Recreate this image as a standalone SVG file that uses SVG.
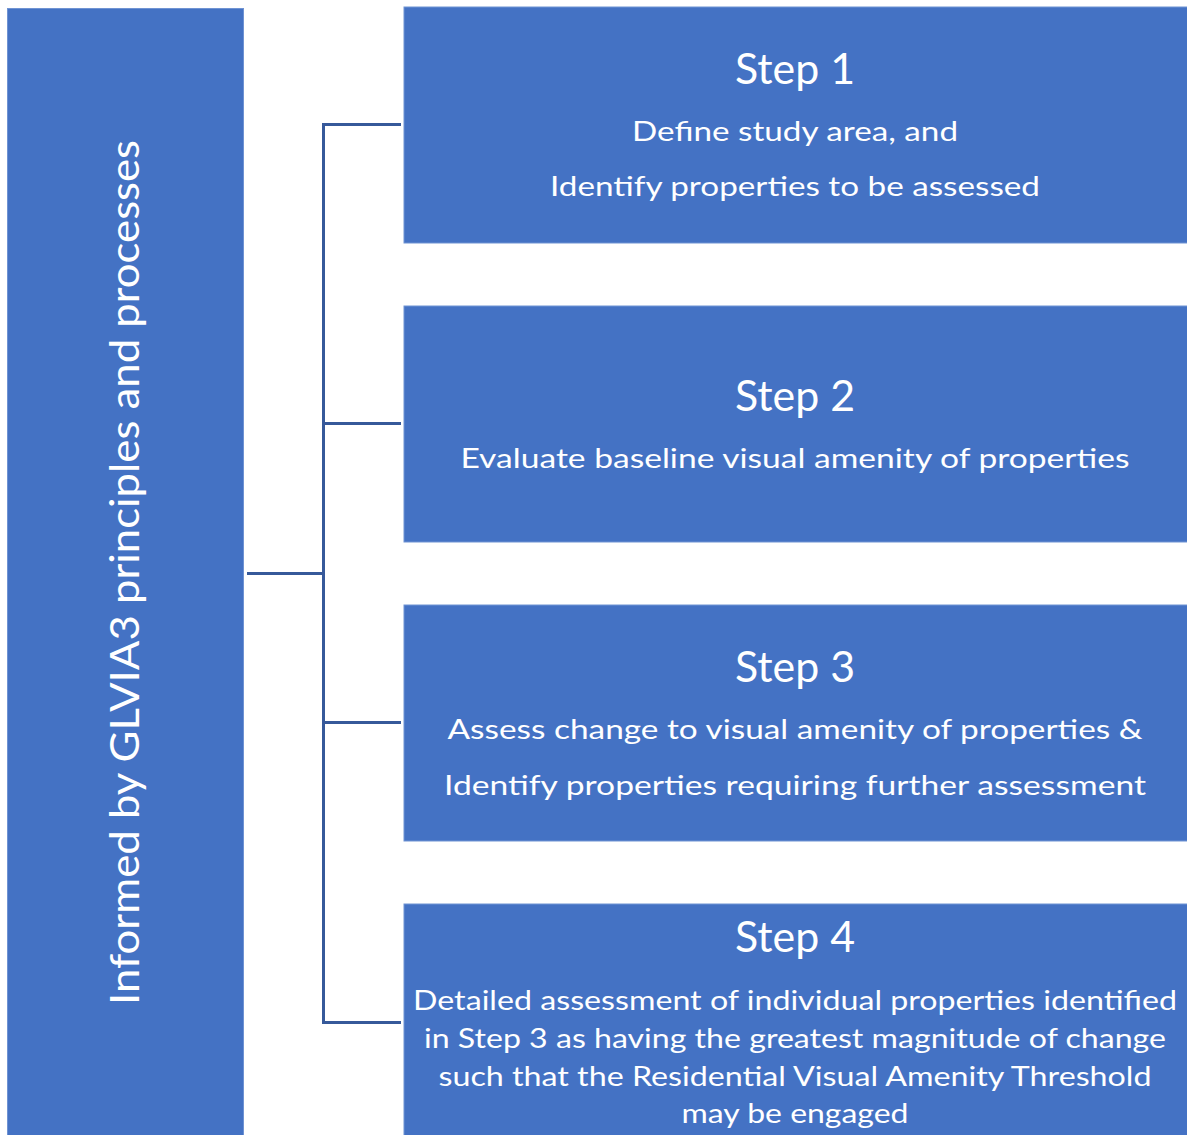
<svg xmlns="http://www.w3.org/2000/svg" width="1187" height="1135" viewBox="0 0 1187 1135">
<style>
.box{fill:#4472C4;stroke:#6F93D3;stroke-width:1}
.t{font-family:Lato,"Open Sans","Liberation Sans",sans-serif;fill:#FFFFFF;text-anchor:middle}
.title{font-size:42px}
.body{font-size:27px}
.side{font-size:40px}
.conn{fill:none;stroke:#36599A;stroke-width:3}
</style>
<rect width="1187" height="1135" fill="#FFFFFF"/>
<g id="side">
<rect class="box" x="7.5" y="8.5" width="236" height="1130"/>
<text class="t side" transform="translate(139,572.5) rotate(-90)" textLength="865" lengthAdjust="spacingAndGlyphs">Informed by GLVIA3 principles and processes</text>
</g>
<g id="connectors">
<path class="conn" d="M247 573.5 H323.5"/>
<path class="conn" d="M401 124.5 H323.5 V1022.5 H401"/>
<path class="conn" d="M323.5 423.5 H401"/>
<path class="conn" d="M323.5 722.5 H401"/>
</g>
<g id="step1">
<rect class="box" x="404" y="7" width="790" height="236"/>
<text class="t title" x="795" y="84" textLength="120" lengthAdjust="spacingAndGlyphs">Step 1</text>
<text class="t body" x="795" y="141" textLength="326" lengthAdjust="spacingAndGlyphs">Define study area, and</text>
<text class="t body" x="795" y="196" textLength="490" lengthAdjust="spacingAndGlyphs">Identify properties to be assessed</text>
</g>
<g id="step2">
<rect class="box" x="404" y="306" width="790" height="236"/>
<text class="t title" x="795" y="411" textLength="120" lengthAdjust="spacingAndGlyphs">Step 2</text>
<text class="t body" x="795" y="468" textLength="669" lengthAdjust="spacingAndGlyphs">Evaluate baseline visual amenity of properties</text>
</g>
<g id="step3">
<rect class="box" x="404" y="605" width="790" height="236"/>
<text class="t title" x="795" y="682" textLength="120" lengthAdjust="spacingAndGlyphs">Step 3</text>
<text class="t body" x="795" y="739" textLength="695" lengthAdjust="spacingAndGlyphs">Assess change to visual amenity of properties &amp;</text>
<text class="t body" x="795" y="795" textLength="702" lengthAdjust="spacingAndGlyphs">Identify properties requiring further assessment</text>
</g>
<g id="step4">
<rect class="box" x="404" y="904" width="790" height="240"/>
<text class="t title" x="795" y="952" textLength="120" lengthAdjust="spacingAndGlyphs">Step 4</text>
<text class="t body" x="795" y="1010" textLength="764" lengthAdjust="spacingAndGlyphs">Detailed assessment of individual properties identified</text>
<text class="t body" x="795" y="1048" textLength="742" lengthAdjust="spacingAndGlyphs">in Step 3 as having the greatest magnitude of change</text>
<text class="t body" x="795" y="1086" textLength="713" lengthAdjust="spacingAndGlyphs">such that the Residential Visual Amenity Threshold</text>
<text class="t body" x="795" y="1123" textLength="227" lengthAdjust="spacingAndGlyphs">may be engaged</text>
</g>
</svg>
